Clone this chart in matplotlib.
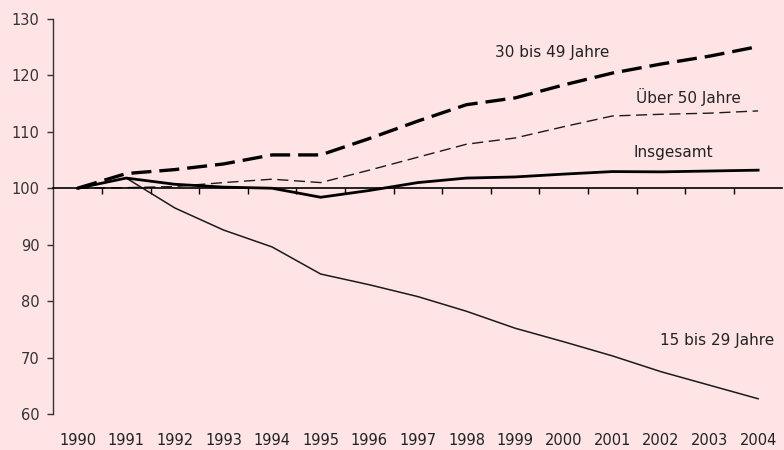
import numpy as np
import matplotlib
matplotlib.use('Agg')
import matplotlib.pyplot as plt
import matplotlib.transforms as mtransforms

# Index 1990 = 100
years = list(range(1990, 2005))
insgesamt = [100, 101.8, 100.7, 100.2, 100.0, 98.4, 99.6, 101.0, 101.8, 102.0, 102.5, 102.95, 102.9, 103.05, 103.2]
jahre_30_49 = [100, 102.6, 103.3, 104.3, 105.9, 105.9, 108.8, 111.9, 114.8, 116.0, 118.3, 120.4, 122.0, 123.4, 125.1]
ueber_50 = [100, 100.1, 100.3, 101.0, 101.6, 101.0, 103.2, 105.5, 107.8, 108.9, 110.9, 112.8, 113.1, 113.3, 113.7]
jahre_15_29 = [100, 101.8, 96.5, 92.6, 89.6, 84.8, 82.9, 80.8, 78.2, 75.2, 72.8, 70.3, 67.5, 65.1, 62.7]

bg = '#FFE4E6'
plt.rcParams['font.family'] = ['DejaVu Sans']

fig = plt.figure(figsize=(7.84, 4.5), dpi=100, facecolor=bg)
ax = fig.add_axes([0.068, 0.08, 0.93, 0.878])
ax.set_facecolor(bg)

ax.plot(years, jahre_15_29, color='#1a1a1a', lw=1.1)
ax.plot(years, ueber_50, color='#1a1a1a', lw=1.0, dashes=(8, 4))
ax.plot(years, jahre_30_49, color='black', lw=2.4, dashes=(6, 2.4))
ax.plot(years, insgesamt, color='black', lw=2.0)

ax.set_xlim(1989.5, 2004.5)
ax.set_ylim(60, 130)

for s in ['top', 'right']:
    ax.spines[s].set_visible(False)
ax.spines['bottom'].set_position(('data', 100))
ax.spines['bottom'].set_linewidth(1.2)
ax.spines['left'].set_linewidth(1.0)
ax.spines['left'].set_color('#333333')

ax.set_yticks(np.arange(60, 131, 10))
ax.tick_params(axis='y', direction='out', length=4, width=1, pad=6,
               labelsize=10.5, colors='#333333')
ax.set_xticks(np.arange(1990.5, 2004, 1))
ax.tick_params(axis='x', direction='out', length=4, width=1, labelbottom=False)

trans = mtransforms.blended_transform_factory(ax.transData, ax.transAxes)
for y in years:
    ax.text(y, -0.066, str(y), transform=trans, ha='center', va='center',
            fontsize=10.5, color='#222222')

ax.text(1999.76, 124.0, '30 bis 49 Jahre', fontsize=11, ha='center', va='center', color='#222222')
ax.text(2002.57, 116.2, 'Über 50 Jahre', fontsize=11, ha='center', va='center', color='#222222')
ax.text(2002.26, 106.4, 'Insgesamt', fontsize=11, ha='center', va='center', color='#222222')
ax.text(2003.16, 73.1, '15 bis 29 Jahre', fontsize=11, ha='center', va='center', color='#222222')

fig.savefig('out.png', dpi=100, facecolor=bg)
